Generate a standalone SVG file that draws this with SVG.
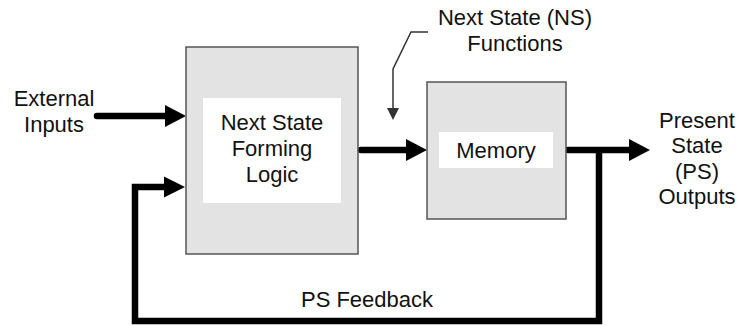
<svg xmlns="http://www.w3.org/2000/svg" width="740" height="325" viewBox="0 0 740 325">
<style>
.box{fill:#e3e3e3;stroke:#555;stroke-width:1.5}
.inner{fill:#fff}
.t{font-family:"Liberation Sans",Arial,sans-serif;font-size:22px;fill:#111;text-anchor:middle}
.wire{fill:none;stroke:#000;stroke-width:6.5;stroke-linejoin:miter}
.head{fill:#000}
.thin{fill:none;stroke:#333;stroke-width:1.5}
</style>
<rect width="740" height="325" fill="#fff"/>
<g id="connectors">
<path class="wire" d="M97,116 H166" stroke-linecap="round"/>
<polygon class="head" points="165,105 186,116 165,127"/>
<path class="wire" d="M361,150 H407" stroke-linecap="round"/>
<polygon class="head" points="406,139 427,150 406,161"/>
<path class="wire" d="M568,150 H630" stroke-linecap="round"/>
<polygon class="head" points="629,139 650,150 629,161"/>
<path class="wire" d="M599,150 V321 H135 V187 H165"/>
<polygon class="head" points="164,176.5 185,187 164,197.5"/>
<path class="thin" d="M428,32 H411 L393,69 V109"/>
<polygon fill="#333" points="387,108 399,108 393,120"/>
</g>
<g id="logic">
<rect class="box" x="186" y="47" width="172" height="207"/>
<rect class="inner" x="203" y="98" width="138" height="105"/>
<text class="t" x="272" y="130">Next State</text>
<text class="t" x="272" y="156">Forming</text>
<text class="t" x="272" y="182">Logic</text>
</g>
<g id="memory">
<rect class="box" x="427" y="82" width="139" height="137"/>
<rect class="inner" x="439" y="132" width="114" height="36"/>
<text class="t" x="496" y="158">Memory</text>
</g>
<g id="ext-inputs">
<text class="t" x="54" y="106">External</text>
<text class="t" x="54" y="132">Inputs</text>
</g>
<g id="ns-label">
<text class="t" x="515" y="25">Next State (NS)</text>
<text class="t" x="515" y="51">Functions</text>
</g>
<g id="ps-outputs">
<text class="t" x="697" y="128">Present</text>
<text class="t" x="697" y="153">State</text>
<text class="t" x="697" y="179">(PS)</text>
<text class="t" x="697" y="204">Outputs</text>
</g>
<g id="ps-feedback">
<text class="t" x="367" y="307">PS Feedback</text>
</g>
</svg>
